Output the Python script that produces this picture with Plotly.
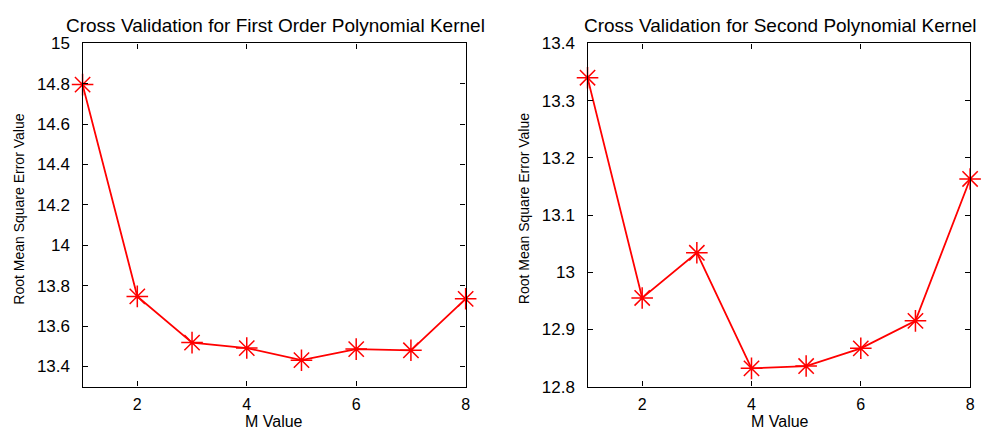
import plotly.graph_objects as go

m_values = [1, 2, 3, 4, 5, 6, 7, 8]
rmse_first = [14.796, 13.747, 13.518, 13.491, 13.431, 13.486, 13.480, 13.735]
rmse_second = [13.340, 12.955, 13.034, 12.832, 12.836, 12.867, 12.915, 13.163]
x_ticks = [2, 4, 6, 8]
y1_ticks = [13.4, 13.6, 13.8, 14, 14.2, 14.4, 14.6, 14.8, 15]
y1_labels = ["13.4", "13.6", "13.8", "14", "14.2", "14.4", "14.6", "14.8", "15"]
y2_ticks = [12.8, 12.9, 13.0, 13.1, 13.2, 13.3, 13.4]
y2_labels = ["12.8", "12.9", "13", "13.1", "13.2", "13.3", "13.4"]

W, H = 995, 432
FONT = "Liberation Sans, Arial, sans-serif"

fig = go.Figure()
marker = dict(symbol="asterisk-open", size=18, color="red", line=dict(color="red", width=1.5))
fig.add_trace(go.Scatter(x=m_values, y=rmse_first, mode="lines+markers",
                         line=dict(color="red", width=1.8), marker=marker,
                         xaxis="x", yaxis="y", showlegend=False, cliponaxis=False))
fig.add_trace(go.Scatter(x=m_values, y=rmse_second, mode="lines+markers",
                         line=dict(color="red", width=1.8), marker=marker,
                         xaxis="x2", yaxis="y2", showlegend=False, cliponaxis=False))

ydom = [(H - 395) / H, (H - 36) / H]
axis_common = dict(showgrid=False, zeroline=False, ticks="inside", ticklen=5,
                   tickcolor="black", linecolor="black", linewidth=1.4, mirror="ticks",
                   showline=True)
ytick_font = dict(family=FONT, size=17, color="black")
xtick_font = dict(family=FONT, size=16, color="black")

fig.update_layout(
    width=W, height=H, autosize=False,
    margin=dict(l=0, r=0, t=0, b=0, pad=0),
    paper_bgcolor="white", plot_bgcolor="white",
    xaxis=dict(domain=[83 / W, 468 / W], range=[1, 8], tickvals=x_ticks,
               anchor="y", ticklabelstandoff=3, tickfont=xtick_font, **axis_common),
    yaxis=dict(domain=ydom, range=[13.3, 15], tickvals=y1_ticks, ticktext=y1_labels,
               anchor="x", ticklabelstandoff=8, tickfont=ytick_font, **axis_common),
    xaxis2=dict(domain=[590.5 / W, 975 / W], range=[1, 8], tickvals=x_ticks,
                anchor="y2", ticklabelstandoff=3, tickfont=xtick_font, **axis_common),
    yaxis2=dict(domain=ydom, range=[12.8, 13.4], tickvals=y2_ticks, ticktext=y2_labels,
                anchor="x2", ticklabelstandoff=8, tickfont=ytick_font, **axis_common),
)

title_font = dict(family=FONT, size=19, color="black")
xlab_font = dict(family=FONT, size=16, color="black")
ylab_font = dict(family=FONT, size=14, color="black")
annotations = [
    dict(text="Cross Validation for First Order Polynomial Kernel", x=277 / W, y=(H - 17) / H,
         xref="paper", yref="paper", showarrow=False, font=title_font, xanchor="center", yanchor="middle"),
    dict(text="Cross Validation for Second Polynomial Kernel", x=784 / W, y=(H - 17) / H,
         xref="paper", yref="paper", showarrow=False, font=title_font, xanchor="center", yanchor="middle"),
    dict(text="M Value", x=275 / W, y=(H - 420) / H,
         xref="paper", yref="paper", showarrow=False, font=xlab_font, xanchor="center", yanchor="top"),
    dict(text="M Value", x=784 / W, y=(H - 420) / H,
         xref="paper", yref="paper", showarrow=False, font=xlab_font, xanchor="center", yanchor="top"),
    dict(text="Root Mean Square Error Value", x=19 / W, y=(H - 209) / H, textangle=-90,
         xref="paper", yref="paper", showarrow=False, font=ylab_font, xanchor="center", yanchor="middle"),
    dict(text="Root Mean Square Error Value", x=526 / W, y=(H - 209) / H, textangle=-90,
         xref="paper", yref="paper", showarrow=False, font=ylab_font, xanchor="center", yanchor="middle"),
]
fig.update_layout(annotations=annotations)

fig.write_html("out.html")
